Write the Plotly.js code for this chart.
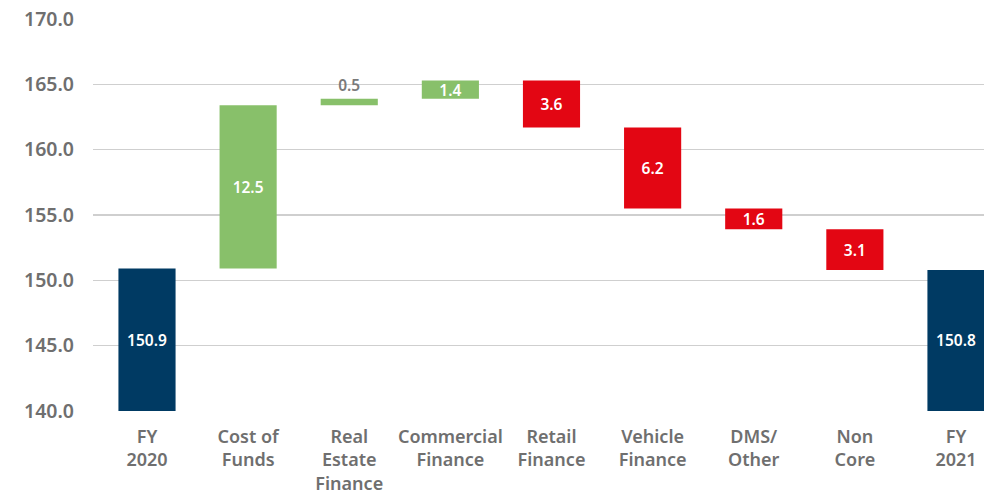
<!DOCTYPE html>
<html>
<head>
<meta charset="utf-8">
<script src="https://cdn.plot.ly/plotly-3.0.1.min.js"></script>
<style>
  html, body { margin: 0; padding: 0; background: #fff; }
  #chart { width: 984px; height: 493px; }
</style>
</head>
<body>
<div id="chart"></div>
<script>
// bridge FY2020 -> FY2021
const categories = ['FY<br>2020', 'Cost of<br>Funds', 'Real<br>Estate<br>Finance', 'Commercial<br>Finance',
  'Retail<br>Finance', 'Vehicle<br>Finance', 'DMS/<br>Other', 'Non<br>Core', 'FY<br>2021'];
const values = [150.9, 12.5, 0.5, 1.4, -3.6, -6.2, -1.6, -3.1, 150.8];
const kinds = ['total', 'delta', 'delta', 'delta', 'delta', 'delta', 'delta', 'delta', 'total'];
const yTicks = [140, 145, 150, 155, 160, 165, 170];

const axisFloor = 140;
const NAVY = '#003a63', GREEN = '#88c06a', RED = '#e30613', GREY = '#6f6f6f';
const FONT = '"Noto Sans", sans-serif';

// work out base / height of each floating bar
const bases = [], heights = [], colors = [], textPos = [], textColors = [];
let running = 0;
values.forEach((v, i) => {
  if (kinds[i] === 'total') {
    running = v;
    bases.push(axisFloor);
    heights.push(v - axisFloor);
    colors.push(NAVY);
  } else {
    const start = running;
    running = +(running + v).toFixed(1);
    bases.push(Math.min(start, running));
    heights.push(Math.abs(v));
    colors.push(v >= 0 ? GREEN : RED);
  }
  // tiny bar gets its label above
  const small = Math.abs(v) < 1;
  textPos.push(small ? 'outside' : 'inside');
  textColors.push(small ? '#7a7a7a' : '#ffffff');
});

const trace = {
  type: 'bar',
  x: categories,
  y: heights,
  base: bases,
  width: 0.565,
  marker: { color: colors },
  text: values.map(v => Math.abs(v).toFixed(1)),
  textposition: textPos,
  insidetextanchor: 'middle',
  constraintext: 'none',
  cliponaxis: false,
  textfont: { family: FONT, size: 15.5, color: textColors, weight: 600 },
  hoverinfo: 'x+text'
};

const layout = {
  width: 984,
  height: 493,
  margin: { l: 93, r: 0, t: 19, b: 82 },
  paper_bgcolor: '#ffffff',
  plot_bgcolor: '#ffffff',
  showlegend: false,
  font: { family: FONT, color: GREY },
  xaxis: {
    range: [-0.534, 8.277],
    showgrid: false,
    zeroline: false,
    showline: false,
    ticks: '',
    ticklabelstandoff: 13,
    tickfont: { size: 18, color: GREY, weight: 600 },
    fixedrange: true
  },
  yaxis: {
    range: [140, 170],
    tickvals: yTicks,
    ticktext: yTicks.map(t => t.toFixed(1)),
    showgrid: true,
    gridcolor: '#cfcfcf',
    gridwidth: 1.5,
    zeroline: false,
    showline: false,
    ticks: '',
    ticklabelstandoff: 18,
    tickfont: { size: 19.5, color: GREY, weight: 600 },
    fixedrange: true
  }
};

Plotly.newPlot('chart', [trace], layout, { displayModeBar: false, staticPlot: true });
</script>
</body>
</html>
